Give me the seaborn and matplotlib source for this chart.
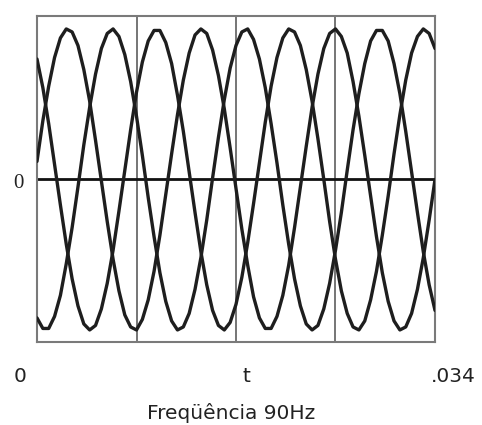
import matplotlib
matplotlib.use("Agg")
import matplotlib.pyplot as plt
import seaborn as sns
import pandas as pd

# time samples in seconds (every 0.5 ms)
t = [0.0000, 0.0005, 0.0010, 0.0015, 0.0020, 0.0025, 0.0030, 0.0035, 0.0040, 0.0045,
     0.0050, 0.0055, 0.0060, 0.0065, 0.0070, 0.0075, 0.0080, 0.0085, 0.0090, 0.0095,
     0.0100, 0.0105, 0.0110, 0.0115, 0.0120, 0.0125, 0.0130, 0.0135, 0.0140, 0.0145,
     0.0150, 0.0155, 0.0160, 0.0165, 0.0170, 0.0175, 0.0180, 0.0185, 0.0190, 0.0195,
     0.0200, 0.0205, 0.0210, 0.0215, 0.0220, 0.0225, 0.0230, 0.0235, 0.0240, 0.0245,
     0.0250, 0.0255, 0.0260, 0.0265, 0.0270, 0.0275, 0.0280, 0.0285, 0.0290, 0.0295,
     0.0300, 0.0305, 0.0310, 0.0315, 0.0320, 0.0325, 0.0330, 0.0335, 0.0340]

# three phases, values
fase_a = [0.12, 0.39, 0.62, 0.81, 0.94, 1.00, 0.98, 0.89, 0.73, 0.52,
          0.26, -0.01, -0.28, -0.53, -0.74, -0.90, -0.98, -1.00, -0.93, -0.80,
          -0.61, -0.37, -0.10, 0.17, 0.43, 0.66, 0.84, 0.96, 1.00, 0.97,
          0.86, 0.69, 0.47, 0.21, -0.06, -0.33, -0.57, -0.78, -0.92, -0.99,
          -0.99, -0.91, -0.77, -0.57, -0.32, -0.05, 0.22, 0.48, 0.70, 0.87,
          0.97, 1.00, 0.95, 0.84, 0.65, 0.42, 0.16, -0.11, -0.38, -0.62,
          -0.81, -0.94, -1.00, -0.98, -0.89, -0.73, -0.52, -0.27, 0.00]

fase_b = [-0.92, -0.99, -0.99, -0.91, -0.77, -0.56, -0.32, -0.05, 0.23, 0.48,
          0.70, 0.87, 0.97, 1.00, 0.95, 0.83, 0.65, 0.42, 0.16, -0.12,
          -0.38, -0.62, -0.81, -0.94, -1.00, -0.98, -0.89, -0.73, -0.52, -0.27,
          0.01, 0.28, 0.53, 0.74, 0.89, 0.98, 1.00, 0.93, 0.80, 0.61,
          0.37, 0.11, -0.17, -0.43, -0.66, -0.84, -0.96, -1.00, -0.97, -0.86,
          -0.69, -0.47, -0.22, 0.06, 0.33, 0.57, 0.77, 0.92, 0.99, 0.99,
          0.92, 0.77, 0.57, 0.32, 0.05, -0.22, -0.48, -0.70, -0.87]

fase_c = [0.80, 0.61, 0.37, 0.10, -0.17, -0.43, -0.66, -0.84, -0.96, -1.00,
          -0.97, -0.86, -0.69, -0.47, -0.21, 0.06, 0.33, 0.58, 0.78, 0.92,
          0.99, 0.99, 0.91, 0.77, 0.56, 0.32, 0.05, -0.22, -0.48, -0.70,
          -0.87, -0.97, -1.00, -0.95, -0.83, -0.65, -0.42, -0.16, 0.11, 0.38,
          0.62, 0.81, 0.94, 1.00, 0.98, 0.89, 0.73, 0.52, 0.27, 0.00,
          -0.28, -0.53, -0.74, -0.89, -0.98, -1.00, -0.94, -0.80, -0.61, -0.37,
          -0.11, 0.17, 0.43, 0.66, 0.84, 0.95, 1.00, 0.97, 0.87]

grid_t = [0.0085, 0.017, 0.0255]

t_max_label = ".034"
titulo = "Freqüência 90Hz"

sns.set_style("white")

W, H = 482, 425
fig = plt.figure(figsize=(W / 100, H / 100), dpi=100)
ax = fig.add_axes([37 / W, 1 - 342 / H, (435 - 37) / W, (342 - 16) / H])

df = pd.DataFrame({"t": t, "A": fase_a, "B": fase_b, "C": fase_c})

for g in grid_t:
    ax.axvline(g, color="#6a6a6a", lw=1.3, zorder=1)

ax.axhline(0, color="#111111", lw=2.0, zorder=2)

for col in ["A", "B", "C"]:
    sns.lineplot(
        data=df,
        x="t",
        y=col,
        ax=ax,
        color="#1e1e1e",
        lw=2.4,
        solid_joinstyle="round",
        zorder=3
    )

ax.set_xlim(0, 0.034)
ax.set_ylim(-1.08, 1.086)
ax.set_xticks([])
ax.set_yticks([])
ax.set_xlabel("")
ax.set_ylabel("")

for s in ax.spines.values():
    s.set_color("#7a7a7a")
    s.set_linewidth(1.5)

fig.text(18 / W, 1 - 184 / H, "0", ha="center", va="center",
         fontsize=15, family="Liberation Serif", color="#222222")

fig.text(20 / W, 1 - 376 / H, "0", ha="center", va="center",
         fontsize=14.5, color="#222222")
fig.text(246 / W, 1 - 376 / H, "t", ha="center", va="center",
         fontsize=14.5, color="#222222")
fig.text(453 / W, 1 - 376 / H, t_max_label, ha="center", va="center",
         fontsize=14.5, color="#222222")

fig.text(231 / W, 1 - 413 / H, titulo, ha="center", va="center",
         fontsize=14.5, color="#222222")

fig.savefig("out.png", dpi=100)
plt.close(fig)
